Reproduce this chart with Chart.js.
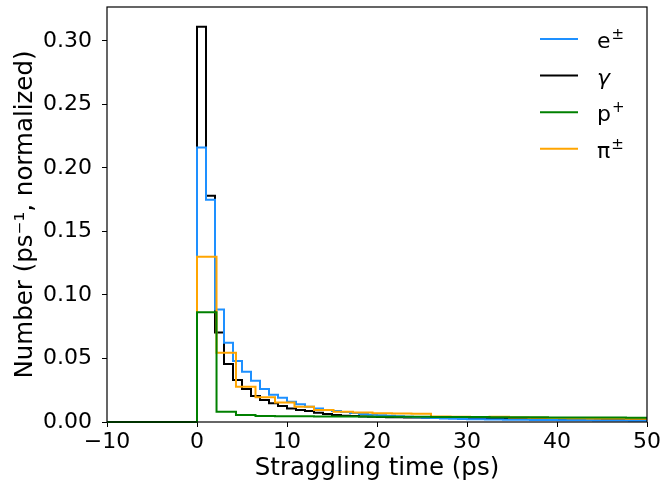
<!DOCTYPE html>
<html>
<head>
<meta charset="utf-8">
<script src="https://cdn.jsdelivr.net/npm/chart.js@4.4.0/dist/chart.umd.min.js"></script>
<style>
    html, body { margin: 0; padding: 0; background: #fff; }
    #StragglingCanvas { display: block; }
</style>
</head>
<body>
<canvas id="StragglingCanvas" width="663" height="485"></canvas>
<script>
// bin edges (ps)
const startEdge = -10;
const fineEdges = [0, 1, 2, 3, 4, 5, 6, 7, 8, 9, 10, 11, 12, 13, 14, 15, 16, 17, 18, 19, 20,
    21, 22, 23, 24, 25, 26, 27, 28, 29, 30, 31, 32, 33, 34, 35, 36, 37, 38, 39, 40,
    41, 42, 43, 44, 45, 46, 47, 48, 49, 50];
const coarseEdges = [0, 2.17, 4.33, 6.5, 8.67, 10.83, 13, 15.17, 17.33, 19.5, 21.67, 23.83, 26,
    28.17, 30.33, 32.5, 34.67, 36.83, 39, 41.17, 43.33, 45.5, 47.67, 49.83, 52];

// normalized counts per bin
const electronValues = [0.216, 0.175, 0.0885, 0.0623, 0.048, 0.0395, 0.0325, 0.026, 0.0215, 0.019,
    0.016, 0.014, 0.012, 0.0107, 0.0095, 0.0086, 0.0078, 0.0070, 0.0063, 0.0058,
    0.0054, 0.0050, 0.0046, 0.0042, 0.0038, 0.0034, 0.0031, 0.0028, 0.0025, 0.0023,
    0.0022, 0.0021, 0.0020, 0.0019, 0.0018, 0.0018, 0.0017, 0.0016, 0.0016, 0.0015,
    0.0014, 0.0014, 0.0013, 0.0013, 0.0012, 0.0012, 0.0011, 0.0011, 0.0010, 0.0010];
const gammaValues = [0.311, 0.178, 0.0705, 0.0456, 0.033, 0.026, 0.0204, 0.0173, 0.0147, 0.0125,
    0.0107, 0.0094, 0.0086, 0.0073, 0.0063, 0.0056, 0.0050, 0.0047, 0.0044, 0.0042,
    0.0040, 0.0038, 0.0037, 0.0036, 0.0035, 0.0034, 0.0033, 0.0033, 0.0032, 0.0031,
    0.0031, 0.0030, 0.0030, 0.0029, 0.0029, 0.0028, 0.0028, 0.0027, 0.0027, 0.0026,
    0.0026, 0.0026, 0.0025, 0.0025, 0.0025, 0.0024, 0.0024, 0.0024, 0.0023, 0.0023];
const protonValues = [0.0864, 0.0081, 0.0055, 0.0047, 0.0046, 0.0045, 0.0044, 0.0043, 0.0043, 0.0042,
    0.0041, 0.0041, 0.0040, 0.0040, 0.0039, 0.0038, 0.0038, 0.0037, 0.0036, 0.0036,
    0.0035, 0.0035, 0.0034, 0.0034];
const pionValues = [0.130, 0.0545, 0.0277, 0.0194, 0.0153, 0.012, 0.0094, 0.0081, 0.0074, 0.0068,
    0.0066, 0.0064, 0.0043, 0.0042, 0.0040, 0.0041, 0.0036, 0.0034, 0.0031, 0.0029,
    0.0028, 0.0027, 0.0026, 0.0025];

const xTicks = [-10, 0, 10, 20, 30, 40, 50];
const yTicks = [0, 0.05, 0.10, 0.15, 0.20, 0.25, 0.30];

const legendBase = ['e', 'γ', 'p', 'π'];
const legendSup = ['±', '', '+', '±'];
const legendColors = ['#1e90ff', '#000000', '#008000', '#ffa500'];

const FONT = '"DejaVu Sans", sans-serif';

//---------------------- HELPERS

function histogramPoints(edges, values) {
    let points = [{x: startEdge, y: 0}];
    for (let i = 0; i < values.length; i++) {
        points.push({x: edges[i], y: values[i]});
    }
    points.push({x: edges[values.length], y: 0});
    return points;
}

function stepDataset(label, edges, values, color, order) {
    return {
        label: label,
        data: histogramPoints(edges, values),
        borderColor: color,
        backgroundColor: color,
        borderWidth: 2,
        stepped: 'before',
        pointRadius: 0,
        fill: false,
        order: order,
        clip: {left: 0, right: 0, top: 0, bottom: 1}
    };
}

// full box round the axes and the legend with superscripts
const frameAndLegend = {
    id: 'frameAndLegend',
    afterDraw(chart) {
        const {ctx, chartArea} = chart;
        ctx.save();
        ctx.strokeStyle = '#000';
        ctx.lineWidth = 1.2;
        ctx.strokeRect(chartArea.left, chartArea.top, chartArea.right - chartArea.left, chartArea.bottom - chartArea.top);

        const lineLeft = chartArea.right - 107;
        const lineRight = chartArea.right - 69;
        const textX = chartArea.right - 50;
        for (let i = 0; i < legendBase.length; i++) {
            const rowY = chartArea.top + 32 + i * 36.6;
            ctx.strokeStyle = legendColors[i];
            ctx.lineWidth = 2;
            ctx.beginPath();
            ctx.moveTo(lineLeft, rowY);
            ctx.lineTo(lineRight, rowY);
            ctx.stroke();

            ctx.fillStyle = '#000';
            ctx.textBaseline = 'alphabetic';
            ctx.textAlign = 'left';
            ctx.font = (i === 1 ? 'italic ' : '') + '22px ' + FONT;
            const baseline = rowY + 9;
            ctx.fillText(legendBase[i], textX, baseline);
            if (legendSup[i]) {
                const w = ctx.measureText(legendBase[i]).width;
                ctx.font = '15px ' + FONT;
                ctx.fillText(legendSup[i], textX + w + 1, baseline - 9);
            }
        }
        ctx.restore();
    }
};

//---------------------- CHART

const myChartStraggling = new Chart(document.getElementById("StragglingCanvas").getContext("2d"), {
    type: 'line',
    data: {
        datasets: [
            stepDataset('e±', fineEdges, electronValues, legendColors[0], 2),
            stepDataset('γ', fineEdges, gammaValues, legendColors[1], 3),
            stepDataset('p+', coarseEdges, protonValues, legendColors[2], 0),
            stepDataset('π±', coarseEdges, pionValues, legendColors[3], 1)
        ]
    },
    options: {
        responsive: false,
        animation: false,
        devicePixelRatio: 1,
        layout: {padding: {top: 7, right: 16, left: 0, bottom: 0}},
        plugins: {
            legend: {display: false},
            tooltip: {enabled: false}
        },
        scales: {
            x: {
                type: 'linear',
                min: -10,
                max: 50,
                afterFit: scale => {
                    scale.height = 63;
                    scale.paddingLeft = 0;
                    scale.paddingRight = 0;
                },
                afterBuildTicks: scale => { scale.ticks = xTicks.map(v => ({value: v})); },
                grid: {display: true, drawOnChartArea: false, drawTicks: true, tickLength: 5, color: '#000'},
                border: {display: false},
                ticks: {
                    color: '#000',
                    padding: 2,
                    maxRotation: 0,
                    font: {family: FONT, size: 22},
                    callback: value => (value < 0 ? '\u2212' + Math.abs(value) : String(value))
                },
                title: {
                    display: true,
                    text: 'Straggling time (ps)',
                    color: '#000',
                    font: {family: FONT, size: 24.5},
                    padding: {top: 0, bottom: 2}
                }
            },
            y: {
                type: 'linear',
                min: 0,
                max: 0.3266,
                afterFit: scale => {
                    scale.width = 107;
                    scale.paddingTop = 0;
                    scale.paddingBottom = 0;
                },
                afterBuildTicks: scale => { scale.ticks = yTicks.map(v => ({value: v})); },
                grid: {display: true, drawOnChartArea: false, drawTicks: true, tickLength: 5, color: '#000'},
                border: {display: false},
                ticks: {
                    color: '#000',
                    padding: 10,
                    font: {family: FONT, size: 22},
                    callback: value => value.toFixed(2)
                },
                title: {
                    display: true,
                    text: 'Number (ps\u207B\u00B9, normalized)',
                    color: '#000',
                    font: {family: FONT, size: 24.5},
                    padding: {top: 11, bottom: 0}
                }
            }
        }
    },
    plugins: [frameAndLegend]
});
</script>
</body>
</html>
